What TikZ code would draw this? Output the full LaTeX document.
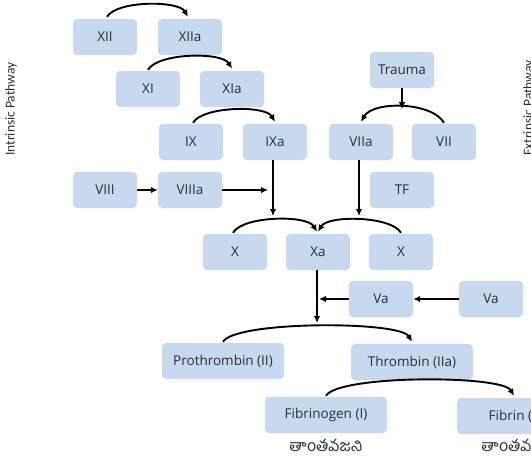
\documentclass[tikz,border=0pt]{standalone}
\usepackage{fontspec}
\usetikzlibrary{arrows.meta}
\setmainfont{Open Sans}
\newfontfamily\sidefont{Carlito}
\newfontfamily\telugufont[Script=Telugu]{Hind Guntur}
\definecolor{boxblue}{RGB}{198,217,238}
\definecolor{boxtext}{RGB}{45,45,50}
\begin{document}
\begin{tikzpicture}[x=1pt,y=1pt,
    factor/.style={fill=boxblue, rounded corners=4pt, minimum width=64pt, minimum height=36pt,
        inner sep=2pt, text=boxtext, font=\fontsize{13.5}{15}\selectfont},
    wide/.style={factor, minimum width=122pt},
    side/.style={rotate=90, text=boxtext, font=\sidefont\fontsize{13.5}{15}\selectfont},
    tel/.style={text=boxtext, font=\telugufont\fontsize{16}{18}\selectfont},
    arr/.style={-{Latex[length=7pt,width=6.5pt]}, line width=1.9pt}]
        \clip (0,0) rectangle (531,-459);
        \useasboundingbox (0,0) rectangle (531,-459);

        %intrinsic
        \node[factor] (xii) at (105,-37) {XII};
        \node[factor] (xiia) at (190,-37) {XIIa};
        \node[factor] (xi) at (148,-89) {XI};
        \node[factor] (xia) at (232,-89) {XIa};
        \node[factor] (ix) at (191,-142) {IX};
        \node[factor] (ixa) at (275,-142) {IXa};
        \node[factor] (viii) at (105,-190) {VIII};
        \node[factor] (viiia) at (190,-190) {VIIIa};

        %extrinsic
        \node[factor] (trauma) at (402,-70) {Trauma};
        \node[factor] (viia) at (361,-142) {VIIa};
        \node[factor] (vii) at (444,-142) {VII};
        \node[factor] (tf) at (402,-190) {TF};

        %common
        \node[factor] (xl) at (235,-252) {X};
        \node[factor] (xa) at (318,-252) {Xa};
        \node[factor] (xr) at (401,-252) {X};
        \node[factor] (va) at (381,-299) {Va};
        \node[factor] (vb) at (491,-299) {Va};
        \node[wide] (pro) at (223,-361) {Prothrombin (II)};
        \node[wide] (thr) at (412,-362) {Thrombin (IIa)};
        \node[wide] (fbg) at (326,-415) {Fibrinogen (I)};
        \node[wide] (fbn) at (518,-416) {Fibrin (Ia)};
        \node[tel] (tel1) at (326,-445) {తాంతవజని};
        \node[tel] (tel2) at (518,-445) {తాంతవజని};

        %labels
        \node[side] (intr) at (11,-109) {Intrinsic Pathway};
        \node[side] (extr) at (529,-108) {Extrinsic Pathway};

        %arrows
        \coordinate (ixend) at (273,-216);
        \coordinate (viiaend) at (359,-216);
        \coordinate (xaend) at (317,-323);
        \coordinate (vajoin) at (317,-299);
        \coordinate (viiijoin) at (268,-190);
        \draw[arr] ([xshift=2pt,yshift=2pt]xii.north) to[out=60,in=120,looseness=0.6] ([xshift=-2pt,yshift=2pt]xiia.north);
        \draw[arr] ([yshift=1pt]xi.north) to[out=60,in=120,looseness=0.6] ([yshift=2pt]xia.north);
        \draw[arr] ([xshift=2pt,yshift=1pt]ix.north) to[out=60,in=120,looseness=0.6] ([yshift=2pt]ixa.north);
        \draw[arr] (trauma.south) -- ++(0,-21);
        \draw[arr] ([yshift=1pt]vii.north) to[out=120,in=60,looseness=0.75] ([yshift=2pt]viia.north);
        \draw[arr] (viii.east) -- (viiia.west);
        \draw[arr] (viiia.east) -- (viiijoin);
        \draw[arr] ([xshift=-2pt]ixa.south) -- (ixend);
        \draw[arr] ([xshift=-2pt]viia.south) -- (viiaend);
        \draw[arr] ([xshift=-2pt,yshift=1pt]xl.north) to[out=60,in=120,looseness=0.6] ([xshift=-1pt,yshift=2pt]xa.north);
        \draw[arr] ([yshift=1pt]xr.north) to[out=120,in=60,looseness=0.6] ([yshift=2pt]xa.north);
        \draw[arr] ([xshift=-1pt]xa.south) -- (xaend);
        \draw[arr] (va.west) -- ([xshift=2pt]vajoin);
        \draw[arr] (vb.west) -- (va.east);
        \draw[arr] ([yshift=1pt]pro.north) to[out=60,in=120,looseness=0.33] ([yshift=2pt]thr.north);
        \draw[arr] ([yshift=1pt]fbg.north) to[out=60,in=120,looseness=0.33] ([xshift=-4pt,yshift=2pt]fbn.north);
    \end{tikzpicture}
\end{document}
